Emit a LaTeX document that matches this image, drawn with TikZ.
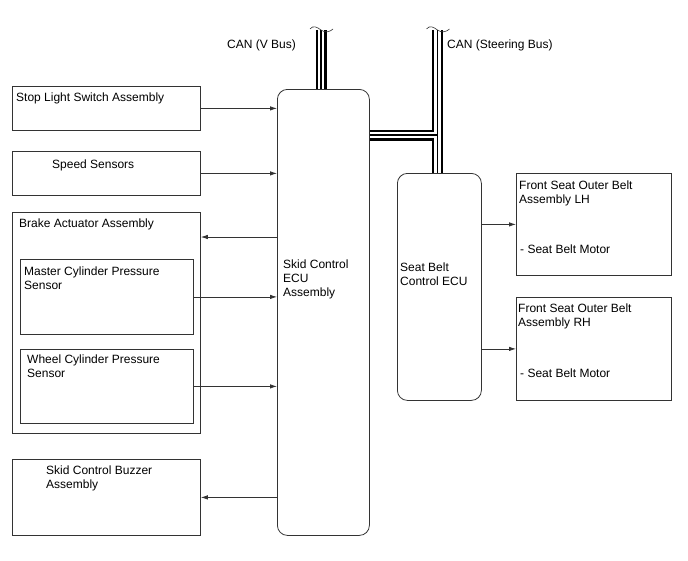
\documentclass[tikz,border=0pt]{standalone}
\usepackage{fontspec}
\setmainfont{Liberation Sans}
\usepackage{tikz}
\usetikzlibrary{arrows.meta,positioning,backgrounds}
\definecolor{eculine}{HTML}{333333}

\begin{document}
\begin{tikzpicture}[x=1pt,y=-1pt,
  blk/.style={draw=eculine,line width=0.8pt,inner sep=0pt,anchor=north west},
  ecu/.style={blk,rounded corners=10pt},
  txt/.style={inner sep=0pt,anchor=north west,align=left,font=\fontsize{12}{14}\selectfont},
  sig/.style={->,line width=0.8pt,eculine},
  >={Latex[length=7pt,width=4.5pt]}]
  \useasboundingbox (0,0) rectangle (688,560);
  % left side
  \node[blk,minimum width=188pt,minimum height=44pt] (stop) at (12,86) {};
  \node[blk,minimum width=188pt,minimum height=44pt] (speed) at (12,151) {};
  \node[blk,minimum width=188pt,minimum height=221pt] (brake) at (12,212) {};
  \node[blk,minimum width=173pt,minimum height=75pt] (master) at (20,259) {};
  \node[blk,minimum width=173pt,minimum height=74pt] (wheel) at (20,349) {};
  \node[blk,minimum width=188pt,minimum height=76pt] (buzzer) at (12,459) {};
  \node[txt,below right=7pt and 4pt of stop.north west] {Stop Light Switch Assembly};
  \node[txt,below right=9pt and 40pt of speed.north west] {Speed Sensors};
  \node[txt,below right=7pt and 7pt of brake.north west] {Brake Actuator Assembly};
  \node[txt,below right=8pt and 4pt of master.north west] {Master Cylinder Pressure\\Sensor};
  \node[txt,below right=6pt and 7pt of wheel.north west] {Wheel Cylinder Pressure\\Sensor};
  \node[txt,below right=7pt and 34pt of buzzer.north west] {Skid Control Buzzer\\Assembly};
  % ECUs
  \node[ecu,minimum width=92pt,minimum height=446pt] (skid) at (277,89) {};
  \node[ecu,minimum width=84pt,minimum height=227pt] (sbecu) at (397,173) {};
  \node[txt,below right=171pt and 6pt of skid.north west] {Skid Control\\ECU\\Assembly};
  \node[txt,below right=90pt and 3pt of sbecu.north west] {Seat Belt\\Control ECU};
  % right side
  \node[blk,minimum width=155pt,minimum height=102pt] (lh) at (516,173) {};
  \node[blk,minimum width=155pt,minimum height=103pt] (rh) at (516,297) {};
  \node[txt,below right=8pt and 3pt of lh.north west] {Front Seat Outer Belt\\Assembly LH};
  \node[txt,below right=72pt and 4pt of lh.north west] {- Seat Belt Motor};
  \node[txt,below right=7pt and 2pt of rh.north west] {Front Seat Outer Belt\\Assembly RH};
  \node[txt,below right=72pt and 4pt of rh.north west] {- Seat Belt Motor};
  % signals
  \coordinate (brakein) at ([yshift=-25pt]brake.north east);
  \draw[sig] (stop) -- (stop -| skid.west);
  \draw[sig] (speed) -- (speed -| skid.west);
  \draw[sig] (skid.west |- brakein) -- (brakein);
  \draw[sig] (master) -- (master -| skid.west);
  \draw[sig] (wheel) -- (wheel -| skid.west);
  \draw[sig] (buzzer -| skid.west) -- (buzzer.east);
  \draw[sig] (sbecu.east |- lh) -- (lh.west);
  \draw[sig] (sbecu.east |- rh) -- (rh.west);
  % CAN lines
  \coordinate (vtop) at (321,30);
  \coordinate (steertop) at (437.5,30);
  \coordinate (tee) at (437.5,135);
  \begin{scope}[on background layer]
    \foreach \w/\c in {11pt/black,6.5pt/white,1.5pt/black}
      \draw[line width=\w,\c] (vtop) -- (vtop |- skid.north)
        (steertop) -- (steertop |- sbecu.north)
        (skid.east |- tee) -- (tee);
  \end{scope}
  \foreach \p in {vtop,steertop}
    \draw[line width=0.6pt,eculine] ([shift={(-11,-1)}]\p) .. controls +(3,-4) and +(-4,-3) .. (\p)
      .. controls +(4,3) and +(-3,3) .. ([shift={(12,-1)}]\p);
  \node[txt] (vlbl) at (227,40) {CAN (V Bus)};
  \node[txt] (slbl) at (447,40) {CAN (Steering Bus)};
\end{tikzpicture}
\end{document}
